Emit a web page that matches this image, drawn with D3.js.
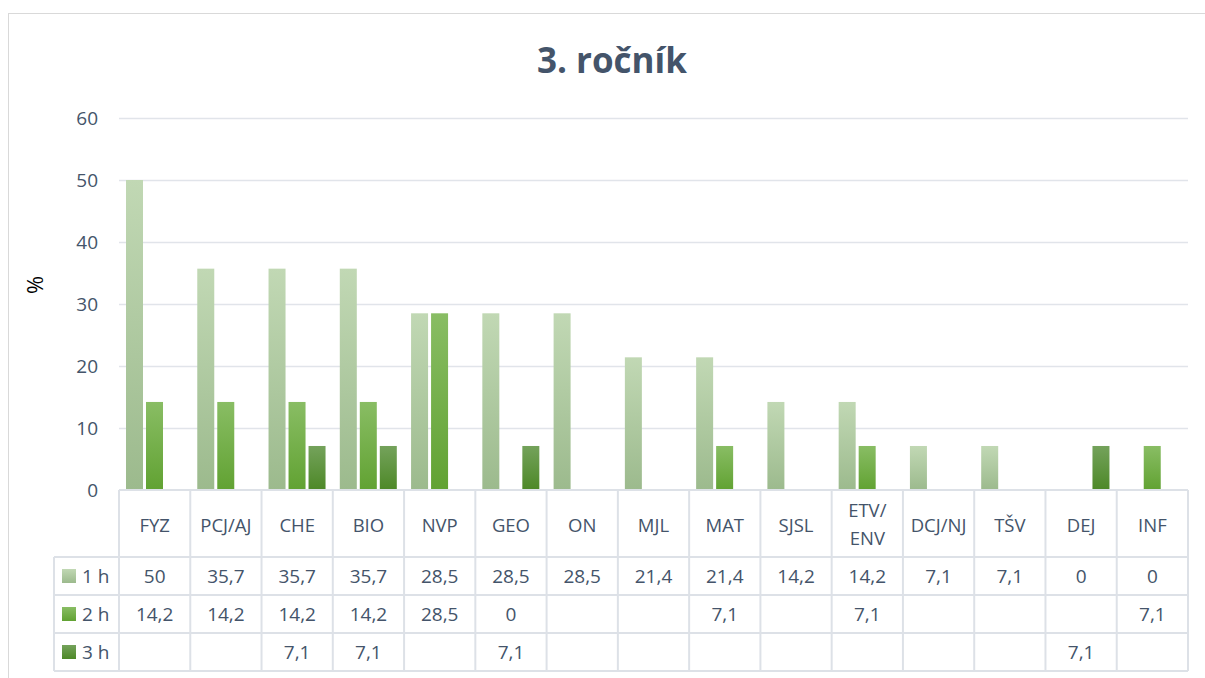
<!DOCTYPE html>
<html>
<head>
<meta charset="utf-8">
<script src="https://cdn.jsdelivr.net/npm/d3@7"></script>
<style>
  body { margin: 0; background: #fff; }
  text { font-family: "Open Sans", "Noto Sans", sans-serif; fill: #44546a; }
</style>
</head>
<body>
<div id="chart"></div>
<script>
// data
var subjects = ["FYZ", "PCJ/AJ", "CHE", "BIO", "NVP", "GEO", "ON", "MJL", "MAT", "SJSL", "ETV/ENV", "DCJ/NJ", "TŠV", "DEJ", "INF"];
var seriesNames = ["1 h", "2 h", "3 h"];
var hours1 = [50, 35.7, 35.7, 35.7, 28.5, 28.5, 28.5, 21.4, 21.4, 14.2, 14.2, 7.1, 7.1, 0, 0];
var hours2 = [14.2, 14.2, 14.2, 14.2, 28.5, 0, null, null, 7.1, null, 7.1, null, null, null, 7.1];
var hours3 = [null, null, 7.1, 7.1, null, 7.1, null, null, null, null, null, null, null, 7.1, null];
var yTicks = [0, 10, 20, 30, 40, 50, 60];

var series = [hours1, hours2, hours3];
var gradColors = [["#c1d8b4", "#9cba8d"], ["#89bd64", "#61a232"], ["#74a25b", "#4d8827"]];

var svgWidth = 1205, svgHeight = 678;
var plotLeft = 119, plotRight = 1188, plotTop = 118, plotBottom = 490;
var headerH = 67, rowH = 38, legendLeft = 54;

var svg = d3.select("#chart").append("svg")
  .attr("width", svgWidth)
  .attr("height", svgHeight);

// gradients
var defs = svg.append("defs");
gradColors.forEach(function(c, i) {
  var g = defs.append("linearGradient")
    .attr("id", "grad" + i)
    .attr("x1", 0).attr("y1", 0).attr("x2", 0).attr("y2", 1);
  g.append("stop").attr("offset", "0%").attr("stop-color", c[0]);
  g.append("stop").attr("offset", "100%").attr("stop-color", c[1]);
});

// outer frame
svg.append("rect")
  .attr("x", 8.5).attr("y", 13.5)
  .attr("width", 1220).attr("height", 700)
  .attr("fill", "none")
  .attr("stroke", "#d9d9d9");

// title
svg.append("text")
  .attr("x", 612).attr("y", 73)
  .attr("text-anchor", "middle")
  .attr("font-size", "35px")
  .attr("font-weight", "bold")
  .text("3. ročník");

// scales
var x = d3.scaleBand().domain(subjects).range([plotLeft, plotRight]);
var xInner = d3.scaleBand().domain([0, 1, 2]).range([7, 64]).paddingInner(0.15);
var y = d3.scaleLinear().domain([0, 60]).range([plotBottom, plotTop]);

// gridlines
svg.append("g").selectAll("line")
  .data(yTicks.filter(d => d > 0))
  .enter().append("line")
  .attr("x1", plotLeft).attr("x2", plotRight)
  .attr("y1", d => y(d) + 0.5).attr("y2", d => y(d) + 0.5)
  .attr("stroke", "#e1e4ea")
  .attr("stroke-width", 1.5);

// y axis labels
var yAxis = svg.append("g")
  .attr("transform", "translate(102,0)")
  .call(d3.axisLeft(y).tickValues(yTicks).tickSize(0).tickPadding(4));
yAxis.select(".domain").remove();
yAxis.selectAll("text")
  .attr("font-size", "19px")
  .attr("font-family", "'Open Sans', sans-serif")
  .attr("fill", "#44546a");

svg.append("text")
  .attr("transform", "translate(43,285) rotate(-90)")
  .attr("text-anchor", "middle")
  .attr("font-size", "22px")
  .style("fill", "#000")
  .text("%");

// bars
series.forEach(function(vals, si) {
  svg.append("g").selectAll("rect")
    .data(subjects.map((s, i) => ({ s: s, v: vals[i] })).filter(d => d.v))
    .enter().append("rect")
    .attr("x", d => x(d.s) + xInner(si))
    .attr("width", xInner.bandwidth())
    .attr("y", d => y(d.v))
    .attr("height", d => y(0) - y(d.v))
    .attr("fill", "url(#grad" + si + ")");
});

// data table
var fmt = v => (v === null ? "" : String(v).replace(".", ","));
var tableBottom = plotBottom + headerH + rowH * 3;
var grid = svg.append("g").attr("stroke", "#dde1e7").attr("stroke-width", 2);

// vertical lines
grid.selectAll(".vl")
  .data(subjects.concat(["end"]))
  .enter().append("line")
  .attr("x1", (d, i) => plotLeft + i * x.step())
  .attr("x2", (d, i) => plotLeft + i * x.step())
  .attr("y1", plotBottom).attr("y2", tableBottom);
grid.append("line")
  .attr("x1", legendLeft).attr("x2", legendLeft)
  .attr("y1", plotBottom + headerH).attr("y2", tableBottom);
// horizontal lines
grid.append("line")
  .attr("x1", plotLeft).attr("x2", plotRight)
  .attr("y1", plotBottom).attr("y2", plotBottom);
grid.selectAll(".hl")
  .data([0, 1, 2, 3])
  .enter().append("line")
  .attr("x1", legendLeft).attr("x2", plotRight)
  .attr("y1", d => plotBottom + headerH + d * rowH)
  .attr("y2", d => plotBottom + headerH + d * rowH);

// header labels
var header = svg.append("g").selectAll("text")
  .data(subjects)
  .enter().append("text")
  .attr("x", d => x(d) + x.bandwidth() / 2)
  .attr("text-anchor", "middle")
  .attr("font-size", "18.5px");
header.each(function(d) {
  var t = d3.select(this);
  var cx = x(d) + x.bandwidth() / 2;
  if (d === "ETV/ENV") {
    t.append("tspan").attr("x", cx).attr("y", 517).text("ETV/");
    t.append("tspan").attr("x", cx).attr("y", 545).text("ENV");
  } else {
    t.attr("y", 532).text(d);
  }
});

// rows
series.forEach(function(vals, si) {
  var rowY = plotBottom + headerH + si * rowH;
  svg.append("rect")
    .attr("x", 62).attr("y", rowY + rowH / 2 - 7)
    .attr("width", 14).attr("height", 14)
    .attr("fill", "url(#grad" + si + ")");
  svg.append("text")
    .attr("x", 82).attr("y", rowY + rowH / 2 + 7)
    .attr("font-size", "19px")
    .text(seriesNames[si]);
  svg.append("g").selectAll("text")
    .data(vals)
    .enter().append("text")
    .attr("x", (d, i) => x(subjects[i]) + x.bandwidth() / 2)
    .attr("y", rowY + rowH / 2 + 7)
    .attr("text-anchor", "middle")
    .attr("font-size", "19px")
    .text(d => fmt(d));
});
</script>
</body>
</html>
